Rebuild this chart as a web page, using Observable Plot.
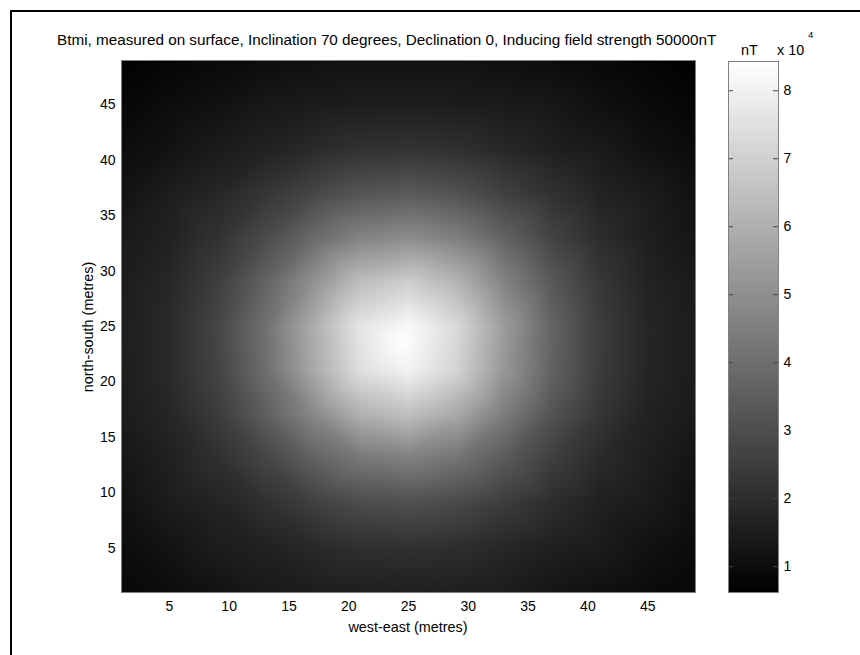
<!DOCTYPE html>
<html><head><meta charset="utf-8">
<script src="https://cdn.jsdelivr.net/npm/d3@7"></script>
<script src="https://cdn.jsdelivr.net/npm/@observablehq/plot@0.6"></script>
<style>
body{margin:0;background:#fff;}
#fig{position:relative;width:860px;height:655px;overflow:hidden;font-family:"Liberation Sans",Arial,sans-serif;color:#000;background:#fff;}
#fig svg{position:absolute;left:0;top:0;}
.lbl{position:absolute;white-space:nowrap;font-size:14.4px;line-height:1;}
#border{position:absolute;left:10px;top:10px;width:900px;height:900px;border-top:2px solid #000;border-left:2px solid #000;}
</style></head><body>
<div id="fig"><div id="border"></div></div>
<script>
// sample positions (metres)
const xs = [1,5,9,13,17,21,25,29,33,37,41,45,49];
const ys = [49,45,41,37,33,29,25,21,17,13,9,5,1];
// Btmi values, units of 10^4 nT, rows follow ys, columns follow xs
const btmi = [
  [0.65,0.79,0.91,1.02,1.11,1.16,1.17,1.15,1.09,0.99,0.88,0.77,0.63],
  [0.83,1.00,1.14,1.36,1.45,1.51,1.54,1.49,1.42,1.34,1.11,0.94,0.79],
  [1.00,1.19,1.45,1.65,1.92,2.13,2.19,2.08,1.84,1.58,1.42,1.14,0.94],
  [1.19,1.52,1.78,2.26,2.78,3.23,3.38,3.14,2.60,2.13,1.69,1.47,1.14],
  [1.41,1.64,2.17,2.93,3.86,4.65,4.95,4.50,3.65,2.69,2.00,1.57,1.25],
  [1.49,1.81,2.52,3.65,5.05,6.45,6.93,6.15,4.65,3.34,2.32,1.70,1.43],
  [1.53,1.92,2.72,4.06,5.90,7.66,8.24,7.29,5.40,3.69,2.48,1.78,1.47],
  [1.52,1.90,2.69,3.98,5.75,7.47,8.04,7.10,5.25,3.65,2.46,1.77,1.46],
  [1.47,1.78,2.44,3.48,4.75,6.00,6.45,5.75,4.42,3.17,2.26,1.66,1.41],
  [1.29,1.60,2.08,2.72,3.58,4.26,4.50,4.14,3.38,2.54,1.92,1.55,1.23],
  [1.16,1.48,1.70,2.11,2.54,2.93,3.05,2.84,2.44,2.00,1.60,1.43,1.10],
  [1.01,1.21,1.49,1.62,1.85,2.06,2.11,2.02,1.80,1.58,1.45,1.16,0.96],
  [0.87,1.01,1.17,1.41,1.52,1.56,1.58,1.56,1.49,1.28,1.12,0.96,0.83]
];
// anomaly peak
const peakX = [24.5], peakY = [23.5], peakV = [8.43];
const axisTicks = [5,10,15,20,25,30,35,40,45];
const colorTicks = [1,2,3,4,5,6,7,8];
const colorDomain = [0.62, 8.43];
const titleText = "Btmi, measured on surface, Inclination 70 degrees, Declination 0, Inducing field strength 50000nT";

const points = [];
ys.forEach((y, i) => xs.forEach((x, j) => points.push({x, y, v: btmi[i][j]})));
peakX.forEach((x, i) => points.push({x, y: peakY[i], v: peakV[i]}));

const font = '"Liberation Sans", Arial, sans-serif';
const colorOpt = {type: "linear", domain: colorDomain, range: ["#000", "#fff"], interpolate: "rgb", clamp: true};

const main = Plot.plot({
  width: 860, height: 655,
  marginLeft: 121, marginRight: 165, marginTop: 60, marginBottom: 63,
  style: {fontSize: "14px", fontFamily: font, background: "transparent", color: "#000"},
  x: {domain: [1, 49], ticks: axisTicks, tickSize: 0, tickPadding: 9, label: null},
  y: {domain: [1, 49], ticks: axisTicks, tickSize: 0, tickPadding: 6, label: null},
  color: colorOpt,
  marks: [
    Plot.raster(points, {x: "x", y: "y", fill: "v", x1: 1, x2: 49, y1: 1, y2: 49, interpolate: "barycentric", pixelSize: 1}),
    Plot.frame({stroke: "#808080"})
  ]
});

const cb = Plot.plot({
  width: 860, height: 655,
  marginLeft: 728, marginRight: 82, marginTop: 61, marginBottom: 63,
  style: {fontSize: "14px", fontFamily: font, background: "transparent", color: "#000"},
  x: {domain: [0, 1], axis: null},
  y: {domain: colorDomain, ticks: colorTicks, tickSize: 0, tickPadding: 5, label: null, axis: "right"},
  color: colorOpt,
  marks: [
    Plot.raster({fill: (x, y) => y, x1: 0, x2: 1, y1: colorDomain[0], y2: colorDomain[1], pixelSize: 1}),
    Plot.tickY(colorTicks, {y: d => d, stroke: "#444", insetRight: 45}),
    Plot.tickY(colorTicks, {y: d => d, stroke: "#444", insetLeft: 45}),
    Plot.frame({stroke: "#808080"})
  ]
});

const fig = document.getElementById("fig");
fig.appendChild(main);
fig.appendChild(cb);

function label(text, css) {
  const d = document.createElement("div");
  d.className = "lbl";
  d.textContent = text;
  Object.assign(d.style, css);
  fig.appendChild(d);
  return d;
}
// title: sized so it runs from x=57 to x=717 as in the reference
const t = label(titleText, {left: "57px", top: "32px", fontSize: "15px"});
const w = t.getBoundingClientRect().width;
if (w > 0) t.style.fontSize = (15 * 660 / w).toFixed(2) + "px";
label("west-east (metres)", {left: "408px", top: "620px", transform: "translateX(-50%)"});
label("north-south (metres)", {left: "88px", top: "327px", transform: "translate(-50%,-50%) rotate(-90deg)"});
label("nT", {left: "741px", top: "43px"});
label("x 10", {left: "777px", top: "43px"});
label("4", {left: "808px", top: "30px", fontSize: "9.5px"});
</script>
</body></html>
